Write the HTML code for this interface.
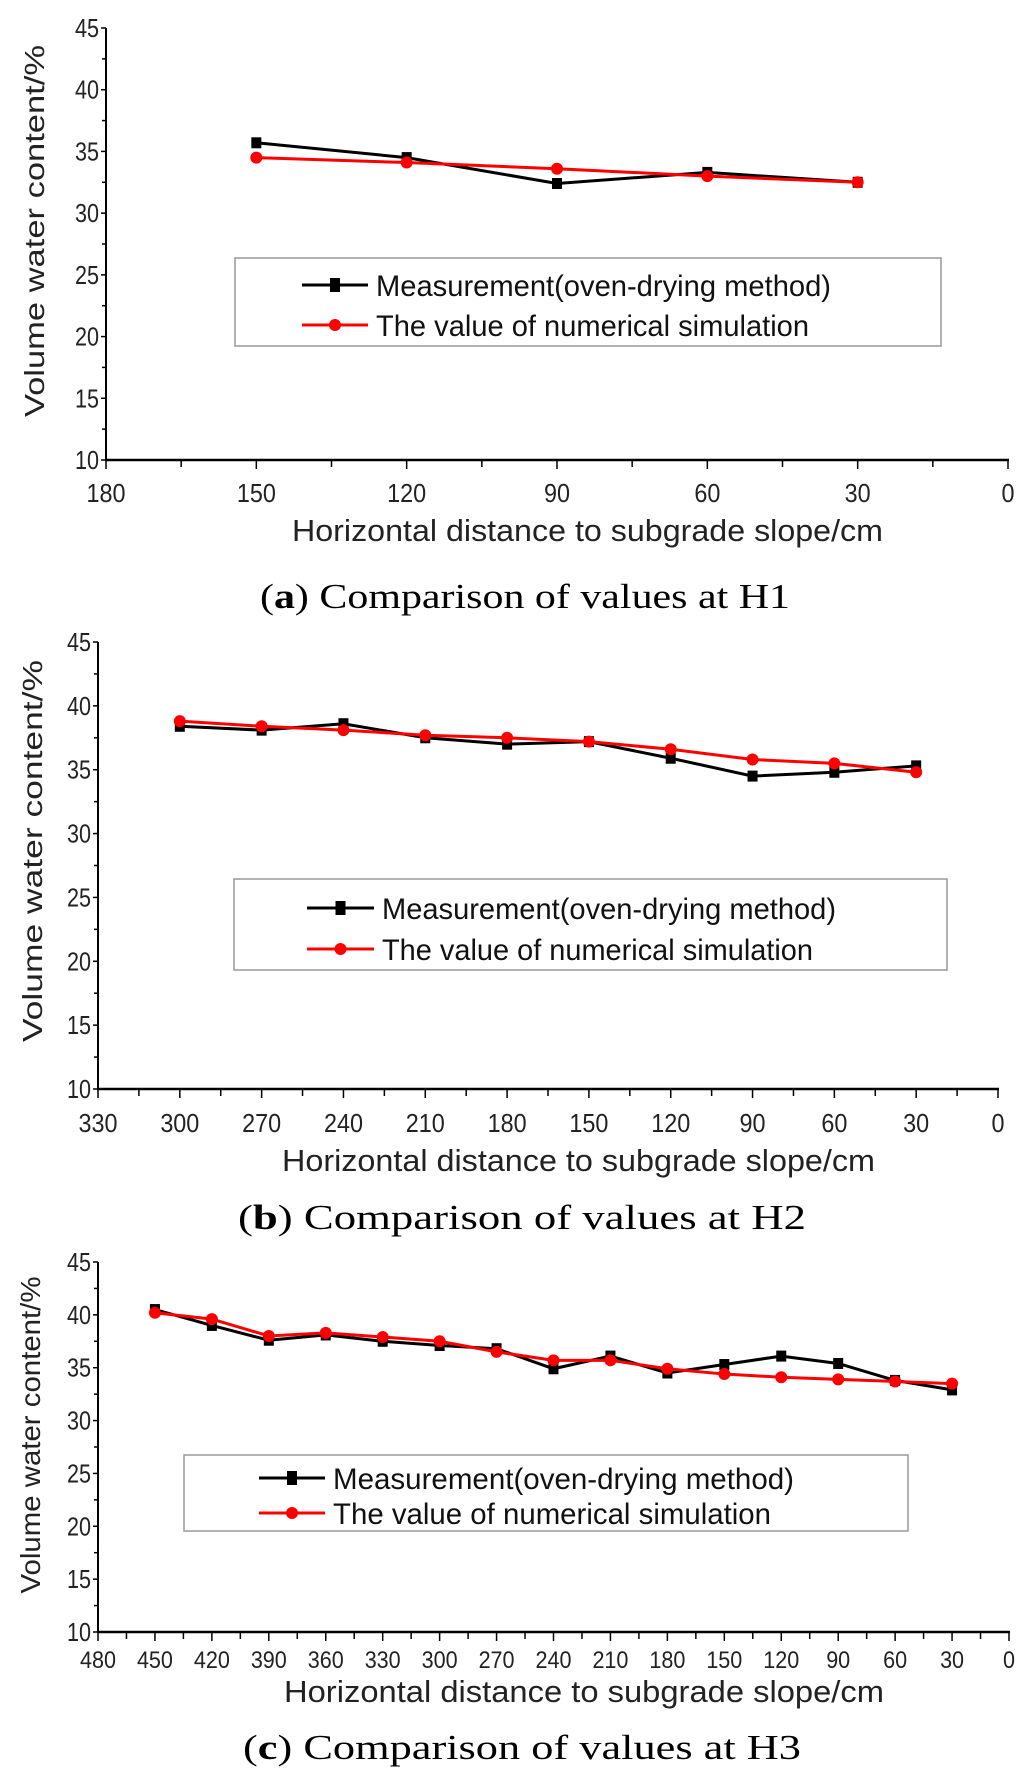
<!DOCTYPE html>
<html><head><meta charset="utf-8">
<style>
html,body{margin:0;padding:0;background:#fff;}
svg{display:block;}
text{font-family:"Liberation Sans",sans-serif;}
.cap{font-family:"Liberation Serif",serif;}
</style></head>
<body>
<svg id="svg" width="1024" height="1780" viewBox="0 0 1024 1780" xmlns="http://www.w3.org/2000/svg">
<text class="cap" x="260" y="608" font-size="35" textLength="530" lengthAdjust="spacingAndGlyphs">(<tspan font-weight="bold">a</tspan>) Comparison of values at H1</text>
<text class="cap" x="238" y="1229" font-size="35" textLength="568" lengthAdjust="spacingAndGlyphs">(<tspan font-weight="bold">b</tspan>) Comparison of values at H2</text>
<text class="cap" x="243" y="1759" font-size="35" textLength="558" lengthAdjust="spacingAndGlyphs">(<tspan font-weight="bold">c</tspan>) Comparison of values at H3</text>
</svg>
<script>
// Chart A data
const xA = [150,120,90,60,30];
const measA = [35.7,34.5,32.4,33.3,32.5];
const simA = [34.5,34.1,33.6,33.0,32.5];
const xTicksA = [180,150,120,90,60,30,0];
// Chart B data
const xB = [300,270,240,210,180,150,120,90,60,30];
const measB = [38.4,38.1,38.6,37.5,37.0,37.2,35.9,34.5,34.8,35.3];
const simB = [38.8,38.4,38.1,37.7,37.5,37.2,36.6,35.8,35.5,34.8];
const xTicksB = [330,300,270,240,210,180,150,120,90,60,30,0];
// Chart C data
const xC = [450,420,390,360,330,300,270,240,210,180,150,120,90,60,30];
const measC = [40.5,39.0,37.6,38.1,37.5,37.1,36.8,34.9,36.1,34.5,35.3,36.1,35.4,33.8,32.9];
const simC = [40.2,39.6,38.0,38.3,37.9,37.5,36.5,35.7,35.7,34.9,34.4,34.1,33.9,33.7,33.5];
const xTicksC = [480,450,420,390,360,330,300,270,240,210,180,150,120,90,60,30,0];
const yTicks = [10,15,20,25,30,35,40,45];

const NS="http://www.w3.org/2000/svg";
const svg=document.getElementById('svg');
function mk(tag,attrs,parent){const e=document.createElementNS(NS,tag);for(const k in attrs)e.setAttribute(k,attrs[k]);(parent||svg).appendChild(e);return e;}

function chart(id,cfg,xs,meas,sim,xt){
  const g=mk('g',{});
  
  
  const xmax=xt[0];
  const X=v=>cfg.x0+(xmax-v)/xmax*(cfg.x1-cfg.x0);
  const Y=v=>cfg.y1-(v-10)/35*(cfg.y1-cfg.y0);
  const ya=mk('line',{x1:cfg.x0,y1:cfg.y0,x2:cfg.x0,y2:cfg.y1+1,stroke:'#000','stroke-width':2},g);
  
  
  const xa=mk('line',{x1:cfg.x0-1,y1:cfg.y1,x2:cfg.x1+1,y2:cfg.y1,stroke:'#000','stroke-width':2.5},g);
  
  
  yTicks.forEach((v,i)=>{
    mk('line',{x1:cfg.x0-5,y1:Y(v),x2:cfg.x0,y2:Y(v),stroke:'#000','stroke-width':1.5},g);
    if(i<yTicks.length-1) mk('line',{x1:cfg.x0-4,y1:Y(v+2.5),x2:cfg.x0,y2:Y(v+2.5),stroke:'#000','stroke-width':1.5},g);
    const t=mk('text',{x:cfg.x0-7,y:Y(v)+9,'font-size':26,'text-anchor':'end',textLength:String(v).length*12,lengthAdjust:'spacingAndGlyphs',fill:'#222'},g);
    
    
    t.textContent=v;
  });
  xt.forEach((v,i)=>{
    mk('line',{x1:X(v),y1:cfg.y1,x2:X(v),y2:cfg.y1+9,stroke:'#000','stroke-width':1.5},g);
    if(i<xt.length-1){const m=(v+xt[i+1])/2;mk('line',{x1:X(m),y1:cfg.y1,x2:X(m),y2:cfg.y1+7,stroke:'#000','stroke-width':1.5},g);}
    const t=mk('text',{x:X(v),y:cfg.ly,'font-size':cfg.tf,'text-anchor':'middle',textLength:String(v).length*cfg.tf*0.5,lengthAdjust:'spacingAndGlyphs',fill:'#222'},g);
    
    
    t.textContent=v;
  });
  const xt2=mk('text',{x:cfg.tx0,y:cfg.ty,'font-size':31,textLength:cfg.tx1-cfg.tx0,lengthAdjust:'spacingAndGlyphs',fill:'#222'},g);
  
  
  xt2.textContent='Horizontal distance to subgrade slope/cm';
  const yt=mk('text',{x:0,y:0,'font-size':28,'text-anchor':'middle',textLength:cfg.yl,lengthAdjust:'spacingAndGlyphs',fill:'#222',transform:`translate(${cfg.yx},${cfg.yc}) rotate(-90)`},g);
  
  
  yt.textContent='Volume water content/%';
  function series(vals,color,shape,name){
    const pts=xs.map((x,i)=>X(x)+','+Y(vals[i])).join(' ');
    const pl=mk('polyline',{points:pts,fill:'none',stroke:color,'stroke-width':3},g);
    
    
    xs.forEach((x,i)=>{
      let m;
      if(shape==='sq') m=mk('rect',{x:X(x)-5,y:Y(vals[i])-5.5,width:10,height:11,fill:color},g);
      else m=mk('circle',{cx:X(x),cy:Y(vals[i]),r:6,fill:color},g);
      
      
    });
  }
  series(meas,'#000','sq','measurement');
  series(sim,'#f00','ci','simulation');
  const L=cfg.leg;
  const lg=mk('g',{},g);
  
  
  mk('rect',{x:L.x0,y:L.y0,width:L.x1-L.x0,height:L.y1-L.y0,fill:'#fff',stroke:'#999','stroke-width':1.5},lg);
  [[L.r1,'#000','sq','Measurement(oven-drying method)',L.t1],[L.r2,'#f00','ci','The value of numerical simulation',L.t2]].forEach(r=>{
    mk('line',{x1:L.s0,y1:r[0],x2:L.s1,y2:r[0],stroke:r[1],'stroke-width':3},lg);
    const c=(L.s0+L.s1)/2;
    if(r[2]==='sq') mk('rect',{x:c-5,y:r[0]-7,width:10,height:14,fill:r[1]},lg);
    else mk('circle',{cx:c,cy:r[0],r:6,fill:r[1]},lg);
    const t=mk('text',{x:L.s1+8,y:r[0]+11,'font-size':30,textLength:r[4]-L.s1-8,lengthAdjust:'spacingAndGlyphs',fill:'#111'},lg);
    
    
    t.textContent=r[3];
  });
}

chart('a',{x0:106,x1:1008,y0:28,y1:460,ly:502,tf:26,tx0:292,tx1:883,ty:541,yx:44,yc:231,yl:372,
  leg:{x0:235,x1:941,y0:258,y1:346,r1:285,r2:325,s0:302,s1:368,t1:831,t2:809}},xA,measA,simA,xTicksA);
chart('b',{x0:98,x1:998,y0:642,y1:1089,ly:1132,tf:26,tx0:282,tx1:875,ty:1171,yx:42,yc:851,yl:382,
  leg:{x0:234,x1:947,y0:879,y1:970,r1:908,r2:949,s0:307,s1:374,t1:836,t2:813}},xB,measB,simB,xTicksB);
chart('c',{x0:98,x1:1009,y0:1262,y1:1632,ly:1668,tf:24,tx0:284,tx1:884,ty:1702,yx:40,yc:1435,yl:317,
  leg:{x0:184,x1:908,y0:1455,y1:1531,r1:1478,r2:1513,s0:259,s1:325,t1:794,t2:771}},xC,measC,simC,xTicksC);
</script>
</body></html>
